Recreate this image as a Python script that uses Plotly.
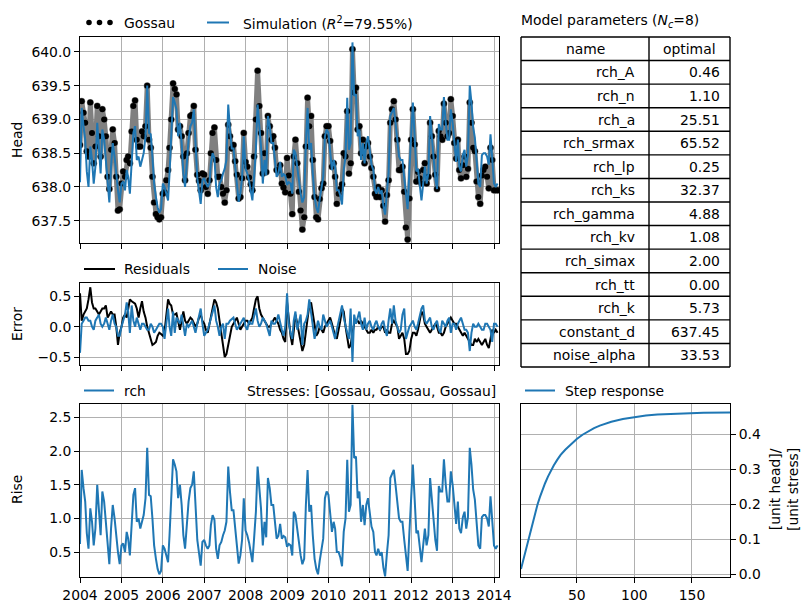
import plotly.graph_objects as go

# ---------------- data ----------------
rch = [0.62, 1.72, 1.45, 1.25, 0.78, 0.55, 1.15, 0.95, 0.6, 0.85,
       1.5, 1.1, 0.75, 1.4, 1.25, 0.95, 0.55, 0.32, 0.85, 1.2,
       1.0, 0.7, 0.5, 0.32, 0.6, 0.63, 0.5, 0.8, 0.7, 0.45,
       0.95, 1.35, 1.45, 0.95, 1.0, 0.85, 0.95, 1.05, 1.3, 2.05,
       1.35, 1.33, 1.0, 0.6, 0.4, 0.25, 0.17, 0.22, 0.6, 0.55,
       0.45, 0.35, 0.75, 1.2, 1.88, 1.8, 1.7, 1.3, 1.5, 1.2,
       0.75, 0.55, 1.0, 1.25, 1.45, 1.5, 1.7, 1.1, 0.68, 0.49,
       0.3, 0.65, 0.68, 0.6, 0.55, 0.6, 0.9, 1.05, 0.98, 0.55,
       0.4, 0.6, 0.65, 0.75, 0.82, 0.95, 1.77, 1.4, 1.12, 1.12,
       0.83, 0.58, 0.33, 0.45, 0.68, 1.3, 0.82, 0.75, 0.64, 0.49,
       0.35, 0.7, 1.1, 1.77, 1.45, 1.15, 0.6, 0.95, 0.72, 1.6,
       1.45, 1.2, 1.2, 0.98, 0.7, 0.74, 0.92, 0.7, 0.74, 0.72,
       0.58, 0.62, 0.6, 0.45, 1.1, 1.05, 0.85, 0.58, 0.45, 0.32,
       0.4, 1.2, 1.72, 1.1, 1.2, 0.75, 0.4, 0.25, 0.17, 0.37,
       0.58, 0.7, 1.3, 1.4, 1.35, 1.08, 0.8, 0.95, 0.85, 0.5,
       0.5, 0.42, 0.29, 0.8, 1.0, 1.87, 1.1, 1.2, 2.69, 1.9,
       1.92, 1.3, 1.4, 0.95, 1.2, 0.9, 1.2, 1.3, 1.1, 0.88,
       0.8, 0.5, 0.45, 0.55, 0.45, 0.5, 0.27, 0.14, 0.48, 0.75,
       1.6, 1.65, 1.72, 1.5, 1.25, 1.0, 0.95, 0.95, 0.68, 0.4,
       0.22, 0.78, 1.45, 1.8, 1.28, 0.78, 0.82, 0.58, 0.35, 0.6,
       0.85, 0.6, 0.75, 1.6, 1.35, 1.0, 0.68, 0.52, 1.48, 1.4,
       1.4, 1.88, 1.5, 1.25, 1.25, 1.7, 1.5, 1.15, 0.92, 1.25,
       0.85, 0.78, 1.02, 1.1, 0.85, 1.02, 2.05, 1.8, 1.43, 1.28,
       0.88, 0.6, 0.55, 1.02, 1.05, 1.05, 1.0, 0.88, 1.33, 1.0,
       0.6, 0.55, 0.6]

residuals = [0.55, 0.1, 0.2, 0.25, 0.3, 0.45, 0.65, 0.4, 0.3, 0.3,
             0.25, 0.2, 0.25, 0.3, 0.3, 0.35, 0.15, 0.2, 0.25, 0.2,
             0.2, 0.0, -0.3, -0.1, 0.0, 0.15, 0.2, 0.15, 0.3, 0.45,
             0.42, 0.4, 0.38, 0.3, 0.15, 0.3, 0.42, 0.25, 0.15, 0.0,
             -0.1, -0.2, -0.3, -0.28, -0.25, -0.15, -0.1, -0.12, -0.15, -0.08,
             0.2, 0.45, 0.38, 0.35, 0.2, 0.2, 0.22, 0.1, -0.05, 0.1,
             0.25, 0.1, 0.05, 0.1, 0.15, 0.12, 0.05, 0.0, 0.05, 0.15,
             0.2, 0.1, 0.05, -0.05, -0.1, 0.05, 0.15, 0.3, 0.45, 0.4,
             0.3, 0.1, -0.1, -0.3, -0.5, -0.45, -0.3, -0.1, 0.0, 0.05,
             0.1, 0.15, 0.05, -0.05, 0.0, 0.05, 0.1, 0.1, 0.05, 0.1,
             0.15, 0.3, 0.45, 0.5, 0.3, 0.2, 0.15, 0.1, 0.05, 0.0,
             0.0, 0.05, 0.1, 0.15, 0.1, 0.05, -0.05, -0.1, -0.2, -0.25,
             0.4, 0.1, -0.15, -0.3, -0.1, 0.2, 0.05, -0.1, -0.25, -0.4,
             -0.3, -0.05, 0.15, 0.35, 0.4, 0.2, 0.0, -0.15, -0.1, 0.0,
             -0.05, -0.1, 0.0, 0.05, 0.1, 0.15, 0.05, -0.05, -0.15, -0.2,
             -0.05, 0.1, 0.3, 0.25, 0.0, -0.2, -0.35, -0.3, -0.1, 0.05,
             0.1, 0.1, 0.05, 0.1, 0.05, 0.0, -0.05, -0.1, -0.1, -0.05,
             -0.1, -0.05, -0.05, 0.0, -0.05, 0.0, 0.0, -0.1, -0.05, -0.1,
             -0.1, 0.05, 0.1, 0.05, 0.0, -0.2, -0.15, -0.1, -0.2, -0.45,
             -0.45, -0.4, -0.2, -0.1, -0.1, -0.15, -0.05, 0.1, 0.25, 0.2,
             0.05, 0.0, -0.05, -0.1, -0.05, 0.0, 0.05, 0.0, -0.1, -0.1,
             -0.15, -0.1, 0.0, 0.05, 0.1, 0.15, 0.1, 0.05, 0.05, 0.0,
             -0.05, -0.1, -0.15, -0.1, -0.15, -0.2, -0.25, -0.3, -0.3, -0.2,
             -0.25, -0.2, -0.25, -0.3, -0.25, -0.2, -0.3, -0.35, -0.2, -0.05,
             -0.1, -0.05, -0.1]

noise = [-0.43, 0.05, 0.1, 0.15, 0.15, 0.1, 0.1, 0.0, -0.05, 0.1,
         0.15, 0.2, 0.05, 0.0, 0.05, 0.15, 0.05, -0.05, 0.1, 0.2,
         0.05, 0.0, -0.15, -0.15, 0.0, 0.1, 0.2, 0.4, 0.25, -0.1,
         0.35, 0.1, 0.0, 0.15, 0.05, -0.05, 0.05, 0.05, 0.0, -0.05,
         -0.05, 0.05, 0.0, -0.1, -0.05, 0.0, 0.05, 0.05, 0.0, -0.2,
         0.05, 0.3, 0.0, -0.15, 0.25, -0.1, 0.15, 0.1, 0.05, 0.2,
         0.05, -0.15, 0.05, 0.0, 0.05, 0.1, 0.0, -0.1, 0.05, 0.2,
         0.3, 0.05, -0.15, -0.1, -0.05, 0.05, 0.15, 0.25, 0.35, 0.1,
         0.0, -0.15, 0.0, 0.05, -0.2, 0.05, 0.05, 0.1, 0.12, 0.15,
         0.05, -0.05, 0.0, 0.05, 0.1, 0.15, 0.0, -0.05, 0.1, 0.05,
         0.05, 0.15, 0.3, 0.1, 0.0, 0.05, 0.15, 0.1, 0.05, -0.05,
         -0.15, 0.1, 0.05, 0.05, 0.1, 0.2, 0.05, -0.05, -0.15, 0.0,
         0.55, 0.05, -0.1, -0.2, 0.1, 0.25, -0.05, 0.1, 0.2, -0.3,
         0.05, 0.1, 0.2, 0.45, 0.2, 0.0, -0.2, -0.05, 0.1, 0.0,
         -0.05, 0.2, 0.1, 0.0, 0.05, 0.1, 0.0, -0.1, -0.2, -0.05,
         0.1, 0.2, 0.35, 0.15, 0.0, -0.1, -0.2, 0.3, -0.58, 0.2,
         0.05, 0.15, 0.25, 0.05, -0.05, 0.15, -0.05, 0.05, 0.1, 0.0,
         -0.05, 0.05, 0.1, 0.0, -0.05, 0.05, 0.1, -0.05, -0.15, 0.1,
         0.3, 0.05, 0.35, 0.1, 0.0, -0.1, -0.05, 0.2, 0.3, -0.2,
         -0.1, 0.0, 0.05, 0.1, 0.0, -0.05, 0.05, 0.2, 0.3, 0.35,
         0.1, 0.05, 0.1, 0.15, 0.0, -0.05, 0.05, 0.1, -0.05, -0.1,
         0.1, 0.05, 0.0, 0.1, 0.15, -0.1, 0.05, 0.05, -0.05, 0.05,
         0.1, 0.15, 0.05, -0.05, -0.05, -0.1, -0.4, -0.1, 0.05, 0.0,
         0.0, 0.05, 0.0, -0.05, -0.05, 0.05, 0.05, 0.0, -0.05, -0.25,
         0.05, 0.05, 0.0]

param_names = ["rch_A", "rch_n", "rch_a", "rch_srmax", "rch_lp", "rch_ks",
               "rch_gamma", "rch_kv", "rch_simax", "rch_tt", "rch_k",
               "constant_d", "noise_alpha"]
param_optimal = [0.46, 1.10, 25.51, 65.52, 0.25, 32.37, 4.88, 1.08, 2.00,
                 0.00, 5.73, 637.45, 33.53]
table_header = ["name", "optimal"]

step_t = [1.6, 3, 4.5, 6, 8, 10, 12, 14, 16, 18, 20, 22.5, 25, 27.5, 30,
          33, 36, 40, 45, 50, 55, 60, 65, 70, 75, 80, 90, 100, 110, 120,
          140, 160, 183]
step_resp = [0.014, 0.032, 0.052, 0.075, 0.100, 0.128, 0.155, 0.178, 0.200,
             0.220, 0.239, 0.260, 0.279, 0.296, 0.311, 0.327, 0.341, 0.356,
             0.373, 0.387, 0.399, 0.409, 0.418, 0.425, 0.431, 0.436, 0.444,
             0.450, 0.454, 0.457, 0.460, 0.462, 0.463]

# half-monthly time stamps of the series
dates = []
for i in range(len(rch)):
    m = i // 2
    dates.append("%04d-%02d-%02d" % (2004 + m // 12, m % 12 + 1, 1 if i % 2 == 0 else 16))

constant_d = param_optimal[param_names.index("constant_d")]
simulation = [constant_d + r for r in rch]
observations = [s + e for s, e in zip(simulation, residuals)]

# ---------------- layout helpers ----------------
W, H = 811, 611
FONT = "DejaVu Sans"
FS = 13.9
C0 = "#1f77b4"


def fx(p):
    return p / W


def fy(p):
    return 1 - p / H


fig = go.Figure()

# Head panel
fig.add_trace(go.Scatter(x=dates, y=observations, mode="lines+markers",
                         line=dict(color="#808080", width=5),
                         marker=dict(color="#808080", size=7),
                         xaxis="x", yaxis="y", showlegend=False, hoverinfo="skip"))
fig.add_trace(go.Scatter(x=dates, y=observations, mode="markers",
                         marker=dict(color="black", size=6),
                         xaxis="x", yaxis="y", showlegend=False))
fig.add_trace(go.Scatter(x=dates, y=simulation, mode="lines",
                         line=dict(color=C0, width=2),
                         xaxis="x", yaxis="y", showlegend=False))
# Error panel
fig.add_trace(go.Scatter(x=dates, y=residuals, mode="lines",
                         line=dict(color="black", width=2),
                         xaxis="x2", yaxis="y2", showlegend=False))
fig.add_trace(go.Scatter(x=dates, y=noise, mode="lines",
                         line=dict(color=C0, width=2),
                         xaxis="x2", yaxis="y2", showlegend=False))
# Rise panel
fig.add_trace(go.Scatter(x=dates, y=rch, mode="lines",
                         line=dict(color=C0, width=2),
                         xaxis="x3", yaxis="y3", showlegend=False))
# Step response
fig.add_trace(go.Scatter(x=step_t, y=step_resp, mode="lines",
                         line=dict(color=C0, width=2),
                         xaxis="x4", yaxis="y4", showlegend=False))

ax = dict(showline=True, linecolor="black", linewidth=1, mirror=True,
          ticks="outside", ticklen=5, tickwidth=1, tickcolor="black",
          showgrid=True, gridcolor="#b0b0b0", gridwidth=1, zeroline=False,
          automargin=False,
          tickfont=dict(family=FONT, size=FS, color="black"))
xr = ["2004-01-01", "2014-02-14"]
xt = dict(type="date", range=xr, tick0="2004-01-01", dtick="M12", tickformat="%Y")

fig.update_layout(
    width=W, height=H, margin=dict(l=0, r=0, t=0, b=0, autoexpand=False),
    paper_bgcolor="white", plot_bgcolor="white",
    font=dict(family=FONT, size=FS, color="black"),
    showlegend=False,
    xaxis=dict(**ax, **xt, domain=[fx(80), fx(499)], anchor="y", showticklabels=False),
    yaxis=dict(**ax, domain=[fy(243), fy(37)], anchor="x", range=[637.17, 640.22],
               tickvals=[637.5, 638.0, 638.5, 639.0, 639.5, 640.0], tickformat=".1f"),
    xaxis2=dict(**ax, **xt, domain=[fx(80), fx(499)], anchor="y2", showticklabels=False),
    yaxis2=dict(**ax, domain=[fy(365), fy(283)], anchor="x2", range=[-0.63, 0.72],
                tickvals=[-0.5, 0.0, 0.5], tickformat=".1f"),
    xaxis3=dict(**ax, **xt, domain=[fx(80), fx(499)], anchor="y3"),
    yaxis3=dict(**ax, domain=[fy(577), fy(404)], anchor="x3", range=[0.13, 2.70],
                tickvals=[0.5, 1.0, 1.5, 2.0, 2.5], tickformat=".1f"),
    xaxis4=dict(**ax, domain=[fx(521), fx(730)], anchor="y4", range=[1.6, 183],
                tickvals=[50, 100, 150]),
    yaxis4=dict(**ax, domain=[fy(577), fy(404)], anchor="x4", range=[-0.0086, 0.487],
                side="right", tickvals=[0.0, 0.1, 0.2, 0.3, 0.4], tickformat=".1f"),
)

ann = []
shapes = []


def text(x, y, s, xanchor="left", angle=0):
    ann.append(dict(x=fx(x), y=fy(y), xref="paper", yref="paper", text=s,
                    showarrow=False, xanchor=xanchor, yanchor="middle",
                    textangle=angle, font=dict(family=FONT, size=FS, color="black")))


def line(x0, y0, x1, y1, color, width=2):
    shapes.append(dict(type="line", xref="paper", yref="paper",
                       x0=fx(x0), x1=fx(x1), y0=fy(y0), y1=fy(y1),
                       line=dict(color=color, width=width)))


def dot(x, y, r=2.8):
    shapes.append(dict(type="circle", xref="paper", yref="paper",
                       x0=fx(x - r), x1=fx(x + r), y0=fy(y + r), y1=fy(y - r),
                       fillcolor="black", line=dict(width=0)))


# legends
for xd in (89, 99.5, 110):
    dot(xd, 22.5)
text(122, 22.5, "Gossau")
line(207, 22.5, 229, 22.5, C0)
text(241, 22.5, "Simulation (<i>R</i><sup>2</sup>=79.55%)")

line(84, 269, 115, 269, "black")
text(122, 269, "Residuals")
line(218, 269, 248, 269, C0)
text(256, 269, "Noise")

line(84, 390.5, 114, 390.5, C0)
text(122, 390.5, "rch")
text(498, 390.5, "Stresses: [Gossau, Gossau, Gossau]", xanchor="right")

line(525, 390.5, 555, 390.5, C0)
text(563, 390.5, "Step response")

text(519, 21, "Model parameters (<i>N</i><sub><i>c</i></sub>=8)")

# parameter table drawn with cells
tx0, tx1, tx2 = 521, 649, 730
ty0, ty1 = 37, 367
nrows = len(param_names) + 1
rh = (ty1 - ty0) / nrows
for k in range(nrows + 1):
    line(tx0, ty0 + k * rh, tx2, ty0 + k * rh, "black", 1.4)
for xv in (tx0, tx1, tx2):
    line(xv, ty0, xv, ty1, "black", 1.4)
text((tx0 + tx1) / 2, ty0 + rh / 2, table_header[0], xanchor="center")
text((tx1 + tx2) / 2, ty0 + rh / 2, table_header[1], xanchor="center")
for k, (nm, val) in enumerate(zip(param_names, param_optimal)):
    yc = ty0 + (k + 1.5) * rh
    text(637, yc, nm, xanchor="right")
    text(722, yc, "%.2f" % val, xanchor="right")

# axis titles
text(17, 140, "Head", xanchor="center", angle=-90)
text(17, 324, "Error", xanchor="center", angle=-90)
text(17, 490, "Rise", xanchor="center", angle=-90)
text(784, 490, "[unit head]/<br>[unit stress]", xanchor="center", angle=-90)

fig.update_layout(annotations=ann, shapes=shapes)

fig.write_html("out.html")
